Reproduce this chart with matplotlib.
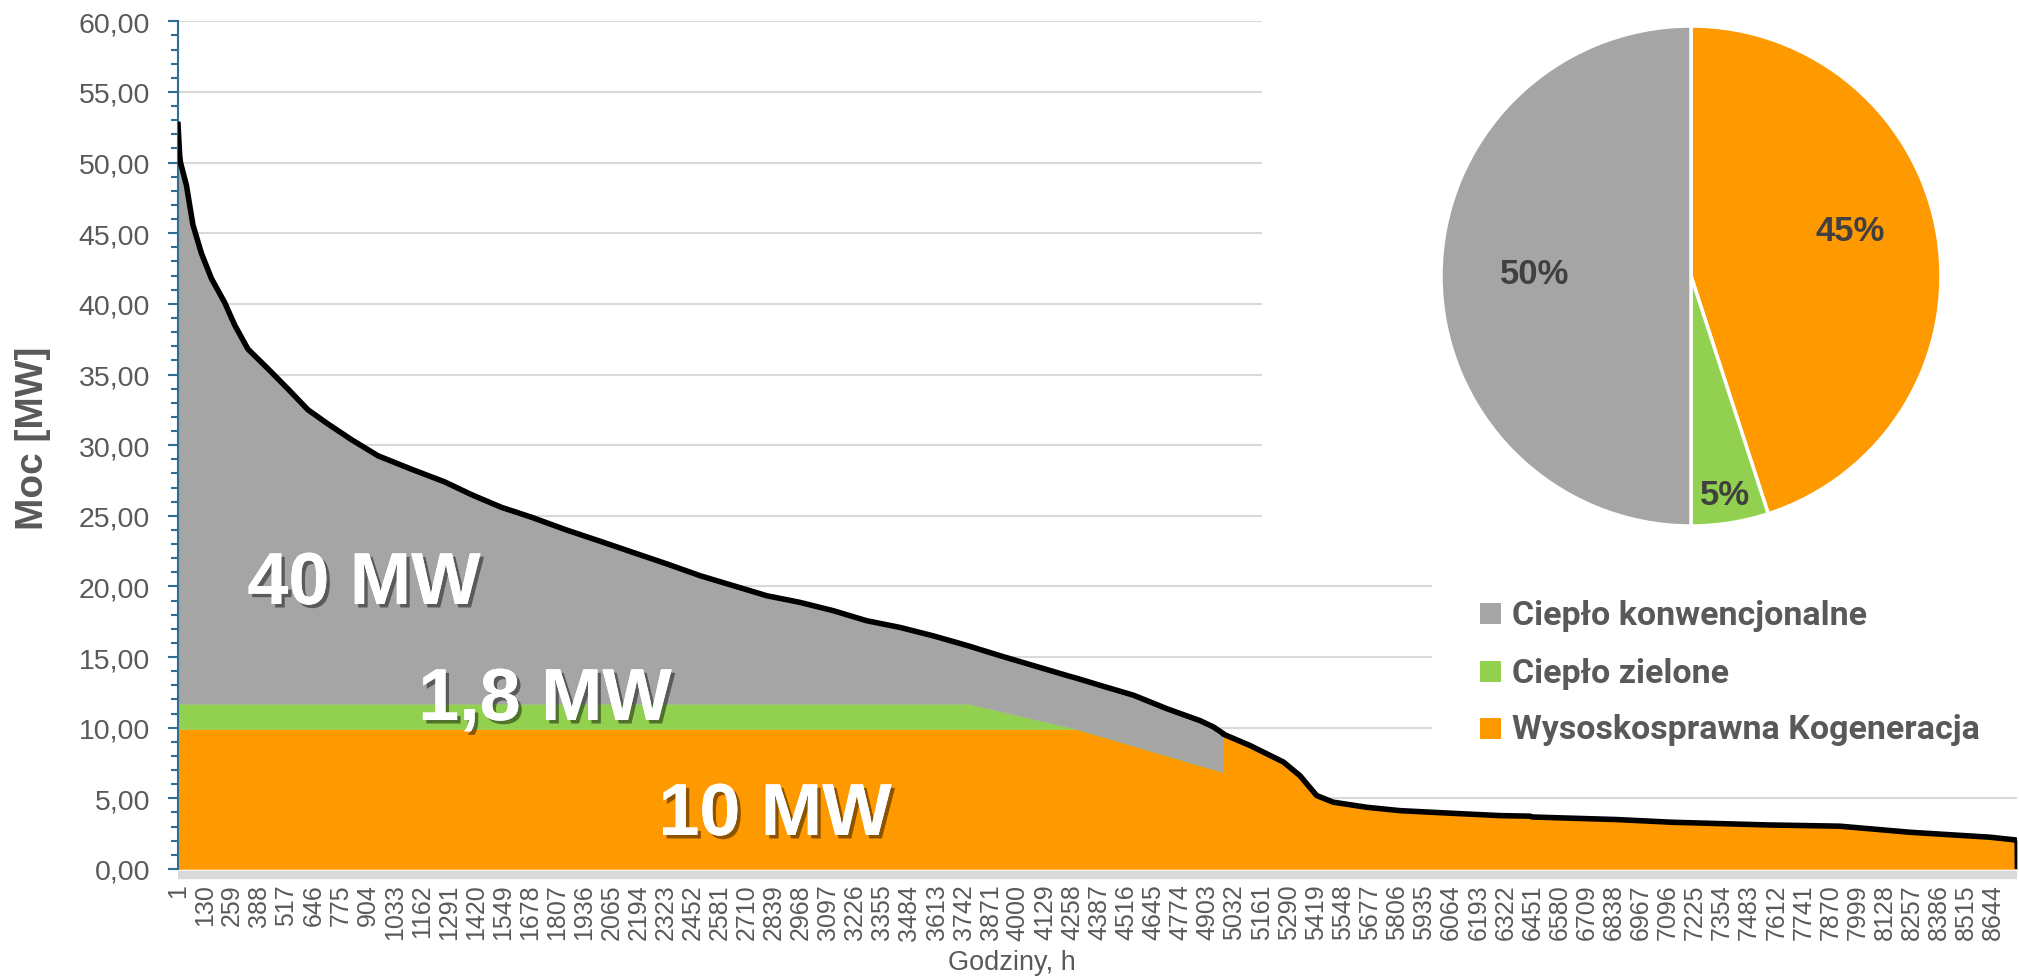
import matplotlib
matplotlib.use('Agg')
import matplotlib.pyplot as plt
import numpy as np
from matplotlib.ticker import MultipleLocator, FuncFormatter
from matplotlib.patches import Rectangle
import matplotlib.patheffects as pe

plt.rcParams['font.family'] = ['Liberation Sans', 'DejaVu Sans']

# ---------------- data ----------------
hours = [1, 9, 13, 41, 72, 112, 160, 223, 271, 334,
         430, 525, 620, 715, 826, 953, 1112, 1271, 1398, 1541,
         1684, 1850, 2011, 2169, 2328, 2487, 2646, 2805, 2963, 3122,
         3281, 3439, 3598, 3763, 3915, 4074, 4233, 4281, 4392, 4551,
         4709, 4868, 4932, 4977, 4978, 5106, 5265, 5344, 5423, 5502,
         5661, 5820, 6060, 6296, 6439, 6450, 6852, 7114, 7566, 7915,
         8249, 8630, 8749, 8759, 8760]
total = [52.7, 50.5, 50.0, 48.4, 45.6, 43.6, 41.8, 40.1, 38.5, 36.8,
         35.4, 33.97, 32.5, 31.5, 30.4, 29.25, 28.3, 27.4, 26.5, 25.6,
         24.9, 24.0, 23.2, 22.4, 21.6, 20.76, 20.05, 19.34, 18.87, 18.28,
         17.57, 17.1, 16.5, 15.8, 15.1, 14.4, 13.7, 13.5, 13.0, 12.3,
         11.35, 10.5, 10.05, 9.6, 9.55, 8.74, 7.57, 6.6, 5.2, 4.73,
         4.37, 4.13, 3.95, 3.78, 3.74, 3.68, 3.5, 3.31, 3.12, 3.03,
         2.6, 2.25, 2.06, 2.0, 0.0]
# Wysokosprawna kogeneracja (orange base layer)
chp = [9.9] * 38 + [9.42, 8.72, 8.03, 7.33, 7.06, 6.86] + total[44:]
# Ciepło zielone (green layer)
green = [1.8] * 34 + [1.27, 0.72, 0.17, 0.0] + [0.0] * 27
# Ciepło konwencjonalne (grey layer) = rest up to the demand curve
conv = list(np.clip(np.array(total) - np.array(chp) - np.array(green), 0, None))

xtick_hours = list(range(1, 8645, 129))
pie_labels = ['Wysoskosprawna Kogeneracja', 'Ciepło zielone', 'Ciepło konwencjonalne']
pie_values = [45, 5, 50]
legend_labels = ['Ciepło konwencjonalne', 'Ciepło zielone', 'Wysoskosprawna Kogeneracja']
area_labels = ['40 MW', '1,8 MW', '10 MW']

ORANGE = '#FF9900'
GREEN = '#92D050'
GRAY = '#A5A5A5'
TXT = '#595959'
AXBLUE = '#2E6E91'

# ---------------- figure ----------------
W, H = 2019, 978
fig = plt.figure(figsize=(W / 100, H / 100), dpi=100)
fig.patch.set_facecolor('white')


def fx(px):
    return px / W


def fy(py):
    return 1 - py / H


ax_left, ax_right, ax_top, ax_bot = 178, 2017.4, 22.3, 870
ax = fig.add_axes([fx(ax_left), fy(ax_bot), (ax_right - ax_left) / W, (ax_bot - ax_top) / H])
ax.set_zorder(1)
ax.stackplot(hours, chp, green, conv, colors=[ORANGE, GREEN, GRAY], linewidth=0.3,
             edgecolor='face')
ax.plot(hours, total, color='black', lw=4, solid_joinstyle='round', zorder=3)
ax.set_xlim(1, 8760)
ax.set_ylim(0, 60)
ax.yaxis.set_major_locator(MultipleLocator(5))
ax.yaxis.set_minor_locator(MultipleLocator(1))
ax.yaxis.set_major_formatter(FuncFormatter(lambda v, p: f"{v:.2f}".replace('.', ',')))
ax.grid(axis='y', which='major', color='#D9D9D9', lw=1.5)
ax.set_axisbelow(True)
ax.set_xticks(xtick_hours)
ax.set_xticklabels([str(h) for h in xtick_hours])

for s in ['top', 'right']:
    ax.spines[s].set_visible(False)
ax.spines['left'].set_color(AXBLUE)
ax.spines['left'].set_linewidth(1.5)
ax.spines['bottom'].set_color('#D9D9D9')
ax.spines['bottom'].set_linewidth(6)
ax.spines['bottom'].set_position(('outward', 4))
ax.spines['bottom'].set_capstyle('butt')

ax.tick_params(axis='y', which='major', length=7.2, width=1.5, color=AXBLUE, pad=13,
               labelsize=20.5, labelcolor=TXT, direction='out')
ax.tick_params(axis='y', which='minor', length=5, width=1.5, color=AXBLUE, direction='out')
ax.tick_params(axis='x', which='both', length=0, pad=6.5, labelsize=18, labelcolor=TXT,
               labelrotation=90)

fig.text(fx(33), fy(438), 'Moc [MW]', rotation=90, ha='center', va='center',
         fontsize=28, fontweight='bold', color=TXT)
fig.text(fx(1012), fy(963), 'Godziny, h', ha='center', va='center', fontsize=19.5, color=TXT)

# ---------------- overlay (boxes, labels, legend) ----------------
ov = fig.add_axes([0, 0, 1, 1])
ov.set_xlim(0, W)
ov.set_ylim(H, 0)
ov.axis('off')
ov.set_zorder(2)
ov.patch.set_alpha(0)
ov.add_patch(Rectangle((1262, 0), W - 1262, 545, fc='white', ec='none'))
ov.add_patch(Rectangle((1432, 560), W - 1432, 210, fc='white', ec='none'))

shadow = [pe.withSimplePatchShadow(offset=(2.5, -2.5), shadow_rgbFace='black', alpha=0.45),
          pe.Normal()]
for lab, (x, y) in zip(area_labels, [(364, 605), (545, 721), (775, 836)]):
    ov.text(x, y, lab, ha='center', va='baseline', color='white', fontsize=53,
            fontweight='bold', path_effects=shadow)

leg_colors = [GRAY, GREEN, ORANGE]
for lab, col, (sq_top, base) in zip(legend_labels, leg_colors,
                                    [(603.5, 625), (661.5, 683), (719, 739.5)]):
    ov.add_patch(Rectangle((1480, sq_top), 21, 21, fc=col, ec='none'))
    ov.text(1512, base, lab, ha='left', va='baseline', fontsize=24.5, fontweight='bold',
            color=TXT, family=['Roboto', 'DejaVu Sans'])

# ---------------- pie ----------------
pa = fig.add_axes([fx(1262), fy(545), (W - 1262) / W, 545 / H])
pa.set_zorder(3)
pa.patch.set_alpha(0)
pa.pie(pie_values, colors=[ORANGE, GREEN, GRAY], startangle=90, counterclock=False,
       center=(1691, H - 277), radius=250,
       wedgeprops=dict(edgecolor='white', linewidth=2.5))
pa.set_xlim(1262, W)
pa.set_ylim(H - 545, H)
pa.set_aspect('auto')
pa.axis('off')
for v, (x, y) in zip(pie_values, [(1850, 241), (1725, 505), (1535, 284)]):
    pa.text(x, H - y, f"{v}%", ha='center', va='baseline', fontsize=25,
            fontweight='bold', color='#404040')

fig.savefig('out.png', dpi=100, facecolor='white')
